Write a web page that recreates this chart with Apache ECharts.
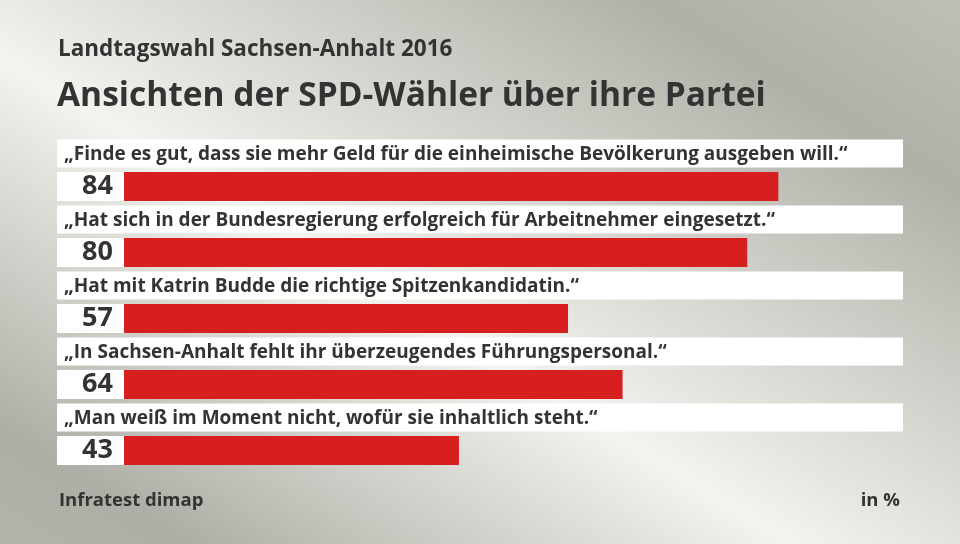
<!DOCTYPE html>
<html>
<head>
<meta charset="utf-8">
<script src="https://cdn.jsdelivr.net/npm/echarts@6/dist/echarts.min.js"></script>
<style>
  html, body { margin: 0; padding: 0; }
  #chart { width: 960px; height: 544px; }
</style>
</head>
<body>
<div id="chart"></div>
<script>
// Daten
const statements = [
    '„Finde es gut, dass sie mehr Geld für die einheimische Bevölkerung ausgeben will.“',
    '„Hat sich in der Bundesregierung erfolgreich für Arbeitnehmer eingesetzt.“',
    '„Hat mit Katrin Budde die richtige Spitzenkandidatin.“',
    '„In Sachsen-Anhalt fehlt ihr überzeugendes Führungspersonal.“',
    '„Man weiß im Moment nicht, wofür sie inhaltlich steht.“',
]
const values = [84, 80, 57, 64, 43]

// Layout
const FONT = '"Open Sans", "Noto Sans", sans-serif'
const TEXT = '#333333'
const RED = '#d81f20'
const BOX_MIN = -8.6 // linker Rand der Zahlenbox in Achseneinheiten

const chart = echarts.init(document.getElementById('chart'))

chart.setOption({
    animation: false,
    graphic: [
        {
            type: 'rect',
            z: -100,
            silent: true,
            shape: { x: 0, y: 0, width: 960, height: 544 },
            style: {
                fill: new echarts.graphic.LinearGradient(140, 673, 689, -221, [
                    { offset: 0, color: '#b6b5ad' },
                    { offset: 0.13, color: '#afaea6' },
                    { offset: 0.43, color: '#f3f3ef' },
                    { offset: 0.8, color: '#b1b0a8' },
                    { offset: 1, color: '#c4c3bb' },
                ], true),
            },
        },
    ],
    title: [
        {
            text: 'Landtagswahl Sachsen-Anhalt 2016',
            left: 53, top: 33,
            textStyle: { fontFamily: FONT, fontSize: 22.5, fontWeight: 'bold', color: TEXT },
        },
        {
            text: 'Ansichten der SPD-Wähler über ihre Partei',
            left: 52, top: 74,
            textStyle: { fontFamily: FONT, fontSize: 33.5, fontWeight: 'bold', color: TEXT },
        },
        {
            text: 'Infratest dimap',
            left: 54, top: 486,
            textStyle: { fontFamily: FONT, fontSize: 18.5, fontWeight: 'bold', color: TEXT },
        },
        {
            text: 'in %',
            right: 55, top: 486,
            textStyle: { fontFamily: FONT, fontSize: 18.5, fontWeight: 'bold', color: TEXT },
        },
    ],
    grid: [
        { left: 57, right: 57, top: 153.5, height: 330 },
        { left: 57, right: 57, top: 120.5, height: 330 },
    ],
    xAxis: [
        { gridIndex: 0, type: 'value', min: BOX_MIN, max: 100, show: false },
        { gridIndex: 1, type: 'value', min: 0, max: 1, show: false },
    ],
    yAxis: [
        { gridIndex: 0, type: 'category', inverse: true, data: statements, show: false },
        { gridIndex: 1, type: 'category', inverse: true, data: statements, show: false },
    ],
    series: [
        // Textzeilen
        {
            type: 'bar',
            xAxisIndex: 1,
            yAxisIndex: 1,
            barWidth: 28,
            data: statements.map(() => 1),
            itemStyle: { color: '#ffffff' },
            label: {
                show: true,
                position: 'insideLeft',
                distance: 7,
                offset: [0, 1],
                formatter: (p) => statements[p.dataIndex],
                fontFamily: FONT,
                fontSize: 19,
                fontWeight: 'bold',
                color: TEXT,
            },
        },
        // Zahlenbox
        {
            type: 'bar',
            barWidth: 29,
            barGap: '-100%',
            data: values.map(() => BOX_MIN),
            itemStyle: { color: '#ffffff' },
        },
        // Werte
        {
            type: 'bar',
            barWidth: 29,
            barGap: '-100%',
            data: values,
            itemStyle: { color: RED },
            label: {
                show: true,
                position: 'left',
                distance: 11,
                fontFamily: FONT,
                fontSize: 27,
                fontWeight: 'bold',
                color: TEXT,
            },
        },
    ],
})
</script>
</body>
</html>
